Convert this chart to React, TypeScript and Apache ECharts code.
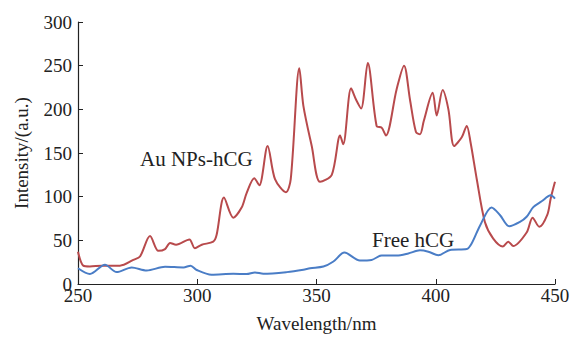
import React, { useEffect, useRef } from "react";
import * as echarts from "echarts";

const auWavelength = [250, 252.2, 255, 260, 267.6, 273.2, 276, 280.2, 283.7, 286.5, 288.6, 291.1, 296.7, 299, 301.9, 306.7, 308.1, 311.2, 315.1, 318.6, 320.7, 323.9, 326, 329.5, 332.6, 337.2, 339.2, 342.8, 344.5, 348, 351.5, 356.4, 359.9, 361.2, 364.5, 366.6, 368.7, 371.5, 375.2, 377.3, 379.1, 383.6, 386.7, 389.2, 391.7, 393.4, 395, 398.7, 400.4, 402.9, 405.3, 407.7, 410.9, 413, 414.6, 417.2, 420.6, 424.1, 428.1, 430.4, 432.5, 438.1, 440.6, 443.4, 446.8, 448.2, 450];
const auIntensity = [37, 21, 20, 21, 21, 27.6, 31.5, 55, 38, 40, 47, 45, 51, 41, 45, 48.5, 56, 99, 76, 87.5, 104, 121, 113, 158, 120, 105, 120, 247, 204, 158, 117, 125, 170, 160, 224, 211, 201, 253, 181, 179, 170, 223, 250, 211, 174, 171.6, 187, 219, 193, 222, 200, 158, 168, 181, 162, 120, 71, 52, 43, 48.5, 43.5, 59, 76, 65.5, 79.5, 98, 117];

const freeWavelength = [250, 255, 261.3, 266.2, 272.5, 278.8, 286.5, 294.2, 297.2, 299.8, 306, 315.1, 320.7, 324.2, 327.7, 337.5, 344.5, 347.3, 352.9, 357.1, 361.7, 368.2, 373.1, 377.3, 383.6, 388.5, 393.4, 396.9, 401.1, 406, 413, 415.1, 418.6, 423.4, 426.9, 430.8, 435.3, 438.1, 440.9, 444.4, 448.2, 450];
const freeIntensity = [18, 11.4, 22, 13.6, 19, 15.5, 19.7, 19, 21, 16, 10.6, 11.7, 11.4, 13.3, 11.7, 13.6, 16.3, 18, 20, 25.8, 36, 27, 27.6, 32.6, 32.6, 35, 38.6, 37, 33, 39, 40, 46.6, 67, 87.5, 79, 66, 71, 77, 88, 94.7, 101.5, 97.7];

const xTicks = [250, 300, 350, 400, 450];
const yTicks = [0, 50, 100, 150, 200, 250, 300];

const FONT = "Liberation Serif";

export default function App() {
  const ref = useRef<HTMLDivElement>(null);
  useEffect(() => {
    if (!ref.current) return;
    const chart = echarts.init(ref.current, null, { renderer: "svg" });
    const au = auWavelength.map((x, i) => [x, auIntensity[i]]);
    const free = freeWavelength.map((x, i) => [x, freeIntensity[i]]);
    chart.setOption({
      animation: false,
      backgroundColor: "#ffffff",
      grid: { left: 78, right: 18, top: 22, bottom: 52 },
      xAxis: {
        type: "value",
        min: xTicks[0],
        max: xTicks[xTicks.length - 1],
        interval: 50,
        name: "Wavelength/nm",
        nameLocation: "middle",
        nameGap: 30,
        nameTextStyle: { fontFamily: FONT, fontSize: 19, color: "#222" },
        axisLine: { show: true, lineStyle: { color: "#222", width: 1.2 } },
        axisTick: { show: true, inside: true, length: 5, lineStyle: { color: "#222" } },
        axisLabel: { fontFamily: FONT, fontSize: 19, color: "#222", margin: 2 },
        splitLine: { show: false },
      },
      yAxis: {
        type: "value",
        min: yTicks[0],
        max: yTicks[yTicks.length - 1],
        interval: 50,
        name: "Intensity/(a.u.)",
        nameLocation: "middle",
        nameGap: 47,
        nameTextStyle: { fontFamily: FONT, fontSize: 19, color: "#222" },
        axisLine: { show: true, lineStyle: { color: "#222", width: 1.2 } },
        axisTick: { show: true, inside: true, length: 5, lineStyle: { color: "#222" } },
        axisLabel: { fontFamily: FONT, fontSize: 19, color: "#222", margin: 6 },
        splitLine: { show: false },
      },
      series: [
        {
          type: "line",
          name: "Au NPs-hCG",
          data: au,
          smooth: 0.3,
          showSymbol: false,
          lineStyle: { color: "#b84a4c", width: 2 },
          z: 2,
        },
        {
          type: "line",
          name: "Free hCG",
          data: free,
          smooth: 0.3,
          showSymbol: false,
          lineStyle: { color: "#4a7dc6", width: 2 },
          z: 3,
        },
      ],
      graphic: [
        {
          type: "text",
          left: 140,
          top: 148,
          style: { text: "Au NPs-hCG", fontFamily: FONT, fontSize: 21, fill: "#222" },
        },
        {
          type: "text",
          left: 372,
          top: 229,
          style: { text: "Free hCG", fontFamily: FONT, fontSize: 21, fill: "#222" },
        },
      ],
    });
    return () => chart.dispose();
  }, []);
  return <div ref={ref} style={{ width: 573, height: 338, position: "absolute", left: 0, top: 0 }} />;
}
